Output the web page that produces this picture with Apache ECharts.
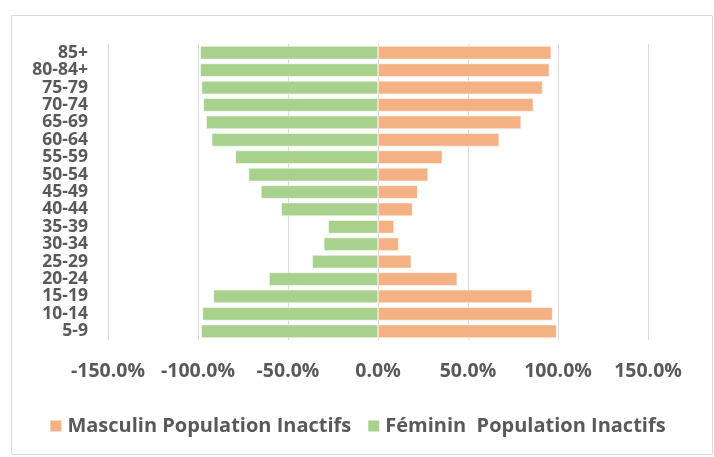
<!DOCTYPE html>
<html>
<head>
<meta charset="utf-8">
<script src="https://cdn.jsdelivr.net/npm/echarts@6/dist/echarts.min.js"></script>
<style>
  html, body { margin: 0; padding: 0; background: #fff; }
  #chart { width: 714px; height: 457px; }
</style>
</head>
<body>
<div id="chart"></div>
<script>
  // age groups, bottom to top
  const ageGroups = ['5-9', '10-14', '15-19', '20-24', '25-29', '30-34', '35-39', '40-44',
    '45-49', '50-54', '55-59', '60-64', '65-69', '70-74', '75-79', '80-84+', '85+']
  // percent of population inactive
  const masculin = [99.2, 97.0, 85.6, 44.0, 18.5, 11.4, 8.9, 19.2,
    22.0, 27.8, 35.7, 67.3, 79.5, 86.3, 91.4, 95.2, 96.2]
  const feminin = [-98.2, -97.5, -91.4, -60.5, -36.5, -30.1, -27.6, -53.7,
    -65.0, -71.9, -79.2, -92.4, -95.4, -97.0, -98.0, -98.7, -98.7]
  const xTicks = [-150, -100, -50, 0, 50, 100, 150]

  const font = "'Open Sans', sans-serif"
  const textColor = '#595959'

  const chart = echarts.init(document.getElementById('chart'))
  const option = {
    animation: false,
    textStyle: { fontFamily: font },
    graphic: [
      {
        type: 'rect',
        shape: { x: 11.5, y: 15.5, width: 701, height: 439 },
        style: { fill: 'none', stroke: '#d9d9d9', lineWidth: 1 },
        silent: true
      }
    ],
    grid: { left: 108, right: 66, top: 44, bottom: 117 },
    legend: {
      bottom: 16,
      left: 'center',
      itemWidth: 13,
      itemHeight: 13,
      itemGap: 15,
      itemTextGap: 5,
      icon: 'rect',
      textStyle: { fontSize: 20, fontWeight: 'bold', color: textColor, fontFamily: font },
      data: ['Masculin Population Inactifs', 'Féminin  Population Inactifs']
    },
    xAxis: {
      type: 'value',
      min: xTicks[0],
      max: xTicks[xTicks.length - 1],
      interval: 50,
      axisLine: { show: false },
      axisTick: { show: false },
      splitLine: { lineStyle: { color: '#d9d9d9', width: 1 } },
      axisLabel: {
        margin: 21,
        fontSize: 19.5,
        fontWeight: 'bold',
        color: textColor,
        fontFamily: font,
        formatter: v => v.toFixed(1) + '%'
      }
    },
    yAxis: {
      type: 'category',
      data: ageGroups,
      axisLine: { show: true, lineStyle: { color: '#d9d9d9', width: 1 } },
      axisTick: { show: false },
      axisLabel: {
        interval: 0,
        margin: 20,
        fontSize: 17.5,
        fontWeight: 'bold',
        color: textColor,
        fontFamily: font,
        lineHeight: 17
      }
    },
    series: [
      {
        name: 'Masculin Population Inactifs',
        type: 'bar',
        data: masculin,
        barGap: '-100%',
        barCategoryGap: '24%',
        itemStyle: { color: '#F4B183', borderColor: '#fff', borderWidth: 0.5 }
      },
      {
        name: 'Féminin  Population Inactifs',
        type: 'bar',
        data: feminin,
        barGap: '-100%',
        barCategoryGap: '24%',
        itemStyle: { color: '#A9D18E', borderColor: '#fff', borderWidth: 0.5 }
      }
    ]
  }
  chart.setOption(option)
</script>
</body>
</html>
